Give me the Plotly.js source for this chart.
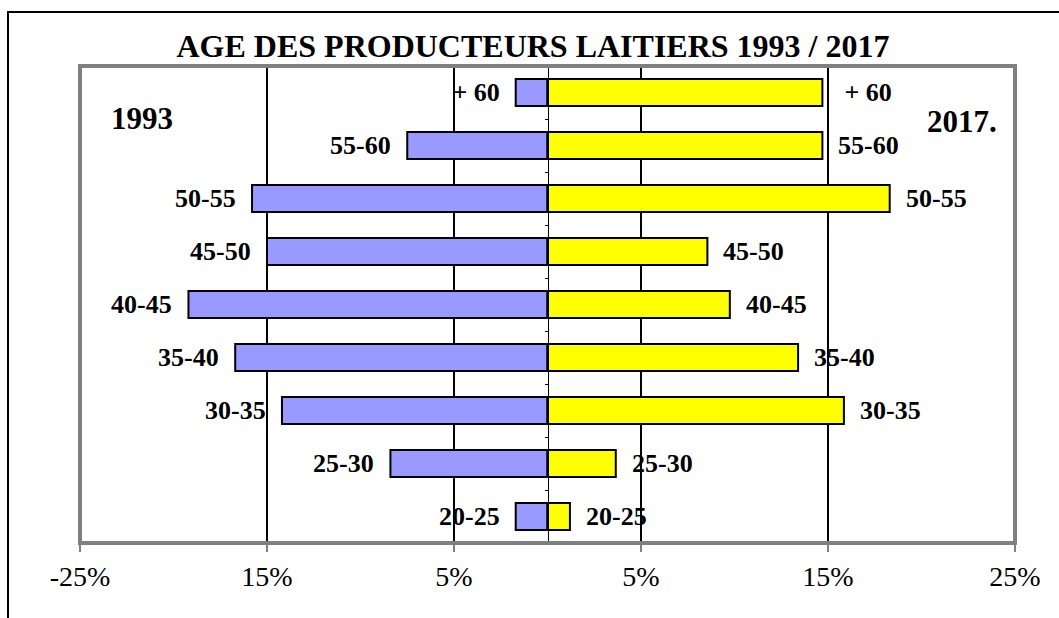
<!DOCTYPE html>
<html>
<head>
<meta charset="utf-8">
<script src="https://cdn.plot.ly/plotly-3.0.1.min.js"></script>
<style>html,body{margin:0;padding:0;background:#fff;}#chart{width:1059px;height:618px;}</style>
</head>
<body>
<div id="chart"></div>
<script>
// Age groups, top to bottom
const ageGroups = ['\u00a0+ 60', '55-60', '50-55', '45-50', '40-45', '35-40', '30-35', '25-30', '20-25'];
// Share of dairy producers (%) per age group
const share1993 = [1.7, 7.5, 15.8, 15.0, 19.2, 16.7, 14.2, 8.4, 1.7];
const share2017 = [14.7, 14.7, 18.3, 8.55, 9.75, 13.4, 15.85, 3.65, 1.2];
// Axis ticks
const tickValues = [-25, -15, -5, 5, 15, 25];
const tickLabels = ['-25%', '15%', '5%', '5%', '15%', '25%'];

const serif = 'Liberation Serif, Times New Roman, serif';

const traces = [
  {
    type: 'bar', orientation: 'h', name: '1993',
    y: ageGroups, x: share1993.map(v => -v),
    marker: {color: '#9999FF', line: {color: '#000000', width: 2}},
    hoverinfo: 'skip'
  },
  {
    type: 'bar', orientation: 'h', name: '2017',
    y: ageGroups, x: share2017,
    marker: {color: '#FFFF00', line: {color: '#000000', width: 2}},
    hoverinfo: 'skip'
  }
];

const annotations = [];
ageGroups.forEach((g, i) => {
  annotations.push({
    x: -share1993[i], y: g, xref: 'x', yref: 'y', text: g, showarrow: false,
    xanchor: 'right', yanchor: 'middle', xshift: -14,
    font: {family: serif, size: 26, color: '#000', weight: 'bold'}
  });
  annotations.push({
    x: share2017[i], y: g, xref: 'x', yref: 'y', text: g, showarrow: false,
    xanchor: 'left', yanchor: 'middle', xshift: 14,
    font: {family: serif, size: 26, color: '#000', weight: 'bold'}
  });
});
annotations.push({
  xref: 'paper', yref: 'paper', x: 0.031, y: 0.889, xanchor: 'left', yanchor: 'middle',
  text: '1993', showarrow: false, font: {family: serif, size: 31, color: '#000', weight: 'bold'}
});
annotations.push({
  xref: 'paper', yref: 'paper', x: 0.983, y: 0.883, xanchor: 'right', yanchor: 'middle',
  text: '2017.', showarrow: false, font: {family: serif, size: 31, color: '#000', weight: 'bold'}
});

const layout = {
  width: 1059, height: 618,
  margin: {l: 80, r: 44, t: 66, b: 75},
  paper_bgcolor: '#ffffff', plot_bgcolor: '#ffffff',
  showlegend: false,
  barmode: 'relative',
  bargap: 0.49,
  title: {
    text: 'AGE DES PRODUCTEURS LAITIERS 1993 / 2017',
    xref: 'container', yref: 'container', x: 0.5033, y: 0.926,
    xanchor: 'center', yanchor: 'middle',
    font: {family: serif, size: 32, color: '#000', weight: 'bold'}
  },
  xaxis: {
    range: [-25, 25],
    tickmode: 'array', tickvals: tickValues, ticktext: tickLabels,
    ticks: 'outside', ticklen: 8, tickwidth: 2, tickcolor: '#808080',
    showgrid: true, gridcolor: '#000000', gridwidth: 2,
    zeroline: false, showline: false,
    tickfont: {family: serif, size: 28, color: '#000'},
    fixedrange: true
  },
  yaxis: {
    type: 'category', autorange: 'reversed',
    anchor: 'free', position: 0.5,
    showline: true, linecolor: '#000000', linewidth: 1,
    ticks: 'outside', ticklen: 3, tickcolor: '#000000', tickwidth: 1,
    tickson: 'boundaries',
    showticklabels: false, showgrid: false, zeroline: false,
    fixedrange: true
  },
  annotations: annotations,
  shapes: [
    {type: 'rect', xref: 'paper', yref: 'paper', x0: 0, x1: 1, y0: 0, y1: 1,
     line: {color: '#808080', width: 4}, layer: 'above'},
    {type: 'rect', xref: 'paper', yref: 'paper', x0: -0.077, x1: 1.2, y0: -0.3, y1: 1.113,
     line: {color: '#000000', width: 2}, layer: 'above'}
  ]
};

Plotly.newPlot('chart', traces, layout, {displayModeBar: false, staticPlot: true});
</script>
</body>
</html>
